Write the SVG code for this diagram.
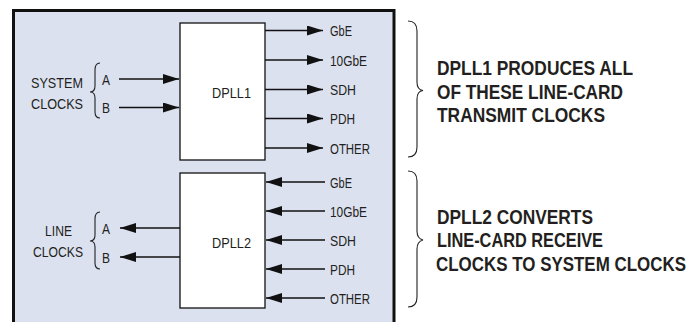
<svg xmlns="http://www.w3.org/2000/svg" width="697" height="322" viewBox="0 0 697 322">
<defs>
<style>
.frame{fill:#dce1f0;stroke:#111;stroke-width:3}
.box{fill:#fff;stroke:#111;stroke-width:1.3}
.conn{stroke:#111;stroke-width:1.4;fill:none}
.brace{stroke:#222;stroke-width:1.1;fill:none}
.lbl{font-family:"Liberation Sans",Arial,sans-serif;font-size:15.5px;fill:#231f20}
.big{font-family:"Liberation Sans",Arial,sans-serif;font-size:21px;font-weight:bold;fill:#231f20}
</style>
<marker id="ah" markerWidth="17" markerHeight="11" refX="16" refY="5" orient="auto" markerUnits="userSpaceOnUse">
<path d="M0,0 L16,5 L0,10 z" fill="#111"/>
</marker>
</defs>
<rect width="697" height="322" fill="#fff"/>
<rect id="frame" class="frame" x="13.5" y="10.5" width="380.5" height="330"/>

<g id="dpll1">
<rect class="box" x="180" y="23" width="85" height="137"/>
<text class="lbl" x="212" y="97.5" textLength="39" lengthAdjust="spacingAndGlyphs">DPLL1</text>
</g>
<g id="dpll2">
<rect class="box" x="180" y="173" width="85" height="135"/>
<text class="lbl" x="212" y="247.5" textLength="39" lengthAdjust="spacingAndGlyphs">DPLL2</text>
</g>

<g id="system-clocks">
<text class="lbl" x="31" y="88" textLength="52" lengthAdjust="spacingAndGlyphs">SYSTEM</text>
<text class="lbl" x="31" y="108.5" textLength="52" lengthAdjust="spacingAndGlyphs">CLOCKS</text>
<path class="brace" d="M100,63 C96,63 95,66 95,70 L95,86 C95,90 93,92 90,92 C93,92 95,94 95,98 L95,112 C95,116 96,118 100,118"/>
<text class="lbl" x="102" y="84.5" textLength="8" lengthAdjust="spacingAndGlyphs">A</text>
<text class="lbl" x="102" y="113" textLength="8" lengthAdjust="spacingAndGlyphs">B</text>
</g>

<g id="line-clocks">
<text class="lbl" x="45" y="236" textLength="27" lengthAdjust="spacingAndGlyphs">LINE</text>
<text class="lbl" x="33" y="257" textLength="50" lengthAdjust="spacingAndGlyphs">CLOCKS</text>
<path class="brace" d="M100,212 C96,212 95,215 95,219 L95,235 C95,239 93,241 90,241 C93,241 95,243 95,247 L95,263 C95,267 96,269 100,269"/>
<text class="lbl" x="102" y="234" textLength="8" lengthAdjust="spacingAndGlyphs">A</text>
<text class="lbl" x="102" y="263" textLength="8" lengthAdjust="spacingAndGlyphs">B</text>
</g>

<g id="tx-outputs">
<text class="lbl" x="330" y="36" textLength="22" lengthAdjust="spacingAndGlyphs">GbE</text>
<text class="lbl" x="330" y="65.5" textLength="37" lengthAdjust="spacingAndGlyphs">10GbE</text>
<text class="lbl" x="330" y="95" textLength="26" lengthAdjust="spacingAndGlyphs">SDH</text>
<text class="lbl" x="330" y="124" textLength="25" lengthAdjust="spacingAndGlyphs">PDH</text>
<text class="lbl" x="330" y="153.5" textLength="40" lengthAdjust="spacingAndGlyphs">OTHER</text>
</g>

<g id="rx-inputs">
<text class="lbl" x="330" y="187.5" textLength="22" lengthAdjust="spacingAndGlyphs">GbE</text>
<text class="lbl" x="330" y="216.5" textLength="37" lengthAdjust="spacingAndGlyphs">10GbE</text>
<text class="lbl" x="330" y="245.5" textLength="26" lengthAdjust="spacingAndGlyphs">SDH</text>
<text class="lbl" x="330" y="274.5" textLength="25" lengthAdjust="spacingAndGlyphs">PDH</text>
<text class="lbl" x="330" y="303.5" textLength="40" lengthAdjust="spacingAndGlyphs">OTHER</text>
</g>

<g id="connectors">
<line class="conn" x1="119" y1="79" x2="179" y2="79" marker-end="url(#ah)"/>
<line class="conn" x1="119" y1="107.5" x2="179" y2="107.5" marker-end="url(#ah)"/>
<line class="conn" x1="265" y1="30.5" x2="323" y2="30.5" marker-end="url(#ah)"/>
<line class="conn" x1="265" y1="60" x2="323" y2="60" marker-end="url(#ah)"/>
<line class="conn" x1="265" y1="89.5" x2="323" y2="89.5" marker-end="url(#ah)"/>
<line class="conn" x1="265" y1="118.5" x2="323" y2="118.5" marker-end="url(#ah)"/>
<line class="conn" x1="265" y1="148" x2="323" y2="148" marker-end="url(#ah)"/>
<line class="conn" x1="325" y1="182" x2="266" y2="182" marker-end="url(#ah)"/>
<line class="conn" x1="325" y1="211" x2="266" y2="211" marker-end="url(#ah)"/>
<line class="conn" x1="325" y1="240" x2="266" y2="240" marker-end="url(#ah)"/>
<line class="conn" x1="325" y1="269" x2="266" y2="269" marker-end="url(#ah)"/>
<line class="conn" x1="325" y1="298" x2="266" y2="298" marker-end="url(#ah)"/>
<line class="conn" x1="180" y1="228" x2="120" y2="228" marker-end="url(#ah)"/>
<line class="conn" x1="180" y1="257" x2="120" y2="257" marker-end="url(#ah)"/>
</g>

<g id="note-dpll1">
<path class="brace" d="M408,21 C414,21 417,25 417,31 L417,82 C417,87 419,90 423,90.5 C419,91 417,94 417,99 L417,147 C417,153 414,157 408,157"/>
<text class="big" x="437" y="75" textLength="196" lengthAdjust="spacingAndGlyphs">DPLL1 PRODUCES ALL</text>
<text class="big" x="437" y="98.5" textLength="186" lengthAdjust="spacingAndGlyphs">OF THESE LINE-CARD</text>
<text class="big" x="437" y="122" textLength="168" lengthAdjust="spacingAndGlyphs">TRANSMIT CLOCKS</text>
</g>

<g id="note-dpll2">
<path class="brace" d="M408,171 C414,171 417,175 417,181 L417,231 C417,236 419,239 423,240 C419,241 417,244 417,249 L417,297 C417,303 414,307 408,307"/>
<text class="big" x="437" y="223.5" textLength="156" lengthAdjust="spacingAndGlyphs">DPLL2 CONVERTS</text>
<text class="big" x="437" y="247" textLength="166" lengthAdjust="spacingAndGlyphs">LINE-CARD RECEIVE</text>
<text class="big" x="436" y="270.5" textLength="250" lengthAdjust="spacingAndGlyphs">CLOCKS TO SYSTEM CLOCKS</text>
</g>
</svg>
